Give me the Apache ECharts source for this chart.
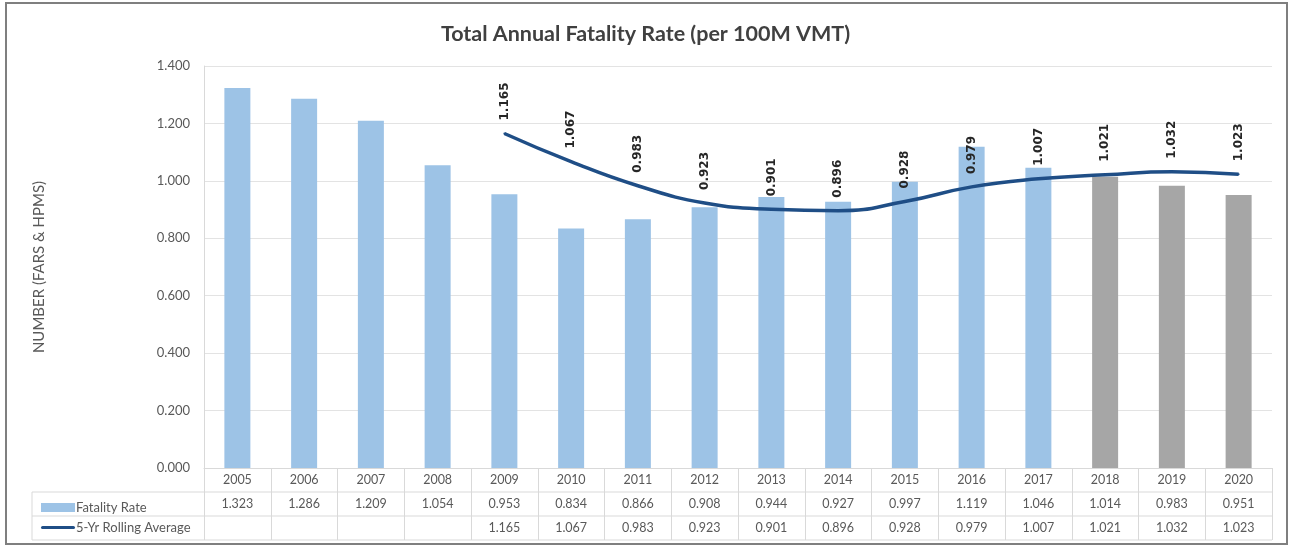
<!DOCTYPE html>
<html>
<head>
<meta charset="utf-8">
<title>Total Annual Fatality Rate</title>
<script src="https://cdn.jsdelivr.net/npm/echarts@6/dist/echarts.min.js"></script>
<style>
  html, body { margin: 0; padding: 0; background: #fff; }
  #chart { width: 1291px; height: 548px; }
</style>
</head>
<body>
<div id="chart"></div>
<script>
// 数据
const years = ["2005", "2006", "2007", "2008", "2009", "2010", "2011", "2012",
  "2013", "2014", "2015", "2016", "2017", "2018", "2019", "2020"];
const fatalityRate = [1.323, 1.286, 1.209, 1.054, 0.953, 0.834, 0.866, 0.908,
  0.944, 0.927, 0.997, 1.119, 1.046, 1.014, 0.983, 0.951];
const rollingAvg = [null, null, null, null, 1.165, 1.067, 0.983, 0.923,
  0.901, 0.896, 0.928, 0.979, 1.007, 1.021, 1.032, 1.023];
const grayYears = ["2018", "2019", "2020"]; // 灰色柱
const yTicks = { min: 0, max: 1.4, interval: 0.2 };

// 布局
const W = 1291, H = 548;
const G = { left: 204, right: 19, top: 66, bottom: 80 };
const rowH = 24; // 表格行高
const axisY = H - G.bottom;
const tableLeft = 32;
const gridRight = W - G.right;

const BLUE = "#9dc3e6";
const GRAY = "#a6a6a6";
const LINE = "#1f4e86";
const TEXT = "#595959";
const BORDER = "#d9d9d9";
const FONT = "Lato, 'Open Sans', sans-serif";

const chart = echarts.init(document.getElementById("chart"), null, { renderer: "canvas" });

const fmt = (v) => (v == null ? "" : v.toFixed(3));

const option = {
  animation: false,
  textStyle: { fontFamily: FONT },
  title: {
    text: "Total Annual Fatality Rate (per 100M VMT)",
    left: "center",
    top: 18,
    textStyle: { fontSize: 21.5, fontWeight: "bold", color: "#404040", fontFamily: FONT }
  },
  legend: {
    orient: "vertical",
    left: tableLeft + 4,
    top: axisY + rowH + 4,
    itemGap: 7,
    itemWidth: 34,
    itemHeight: 9,
    textStyle: { fontSize: 13, color: TEXT, padding: [0, 0, 0, -4] },
    data: [
      { name: "Fatality Rate", icon: "rect", itemStyle: { color: BLUE } },
      {
        name: "5-Yr Rolling Average",
        icon: "path://M2,3.5H32A1.5,1.5,0,0,1,32,6.5H2A1.5,1.5,0,0,1,2,3.5Z",
        itemStyle: { color: LINE, opacity: 1 }
      }
    ]
  },
  grid: { left: G.left, right: G.right, top: G.top, bottom: G.bottom, containLabel: false },
  xAxis: {
    type: "category",
    data: years,
    boundaryGap: true,
    axisLine: { lineStyle: { color: BORDER } },
    axisTick: { show: true, length: rowH * 3, lineStyle: { color: BORDER } },
    axisLabel: {
      margin: 0,
      interval: 0,
      color: TEXT,
      fontSize: 12.5,
      lineHeight: rowH,
      formatter: (v, i) => [v, fmt(fatalityRate[i]), fmt(rollingAvg[i])].join("\n")
    }
  },
  yAxis: {
    type: "value",
    min: yTicks.min,
    max: yTicks.max,
    interval: yTicks.interval,
    name: "NUMBER (FARS & HPMS)",
    nameLocation: "middle",
    nameRotate: 90,
    nameGap: 157,
    nameTextStyle: { fontSize: 15, color: TEXT },
    axisLine: { show: true, lineStyle: { color: BORDER } },
    axisTick: { show: false },
    axisLabel: { color: TEXT, fontSize: 13, margin: 14, formatter: (v) => v.toFixed(3) },
    splitLine: { lineStyle: { color: "#e3e3e3" } }
  },
  series: [
    {
      name: "Fatality Rate",
      type: "bar",
      barWidth: 26,
      itemStyle: { color: BLUE },
      data: fatalityRate.map((v, i) => ({
        value: v,
        itemStyle: { color: grayYears.includes(years[i]) ? GRAY : BLUE }
      }))
    },
    {
      name: "5-Yr Rolling Average",
      type: "line",
      smooth: true,
      symbol: "circle",
      symbolSize: 2,
      showSymbol: true,
      lineStyle: { color: LINE, width: 3.5 },
      itemStyle: { color: LINE },
      label: {
        show: true,
        position: "top",
        distance: 12,
        rotate: 90,
        align: "left",
        verticalAlign: "middle",
        fontSize: 12,
        fontWeight: "bold",
        color: "#262626",
        fontFamily: "'DejaVu Sans', sans-serif",
        formatter: (p) => fmt(p.value)
      },
      labelLayout: { hideOverlap: false },
      data: rollingAvg
    }
  ],
  graphic: [
    // 外框
    { type: "rect", shape: { x: 6, y: 3, width: 1281, height: 541 }, style: { fill: "none", stroke: "#7f7f7f", lineWidth: 2 }, silent: true },
    // 表格横线
    { type: "line", shape: { x1: tableLeft, y1: axisY + rowH, x2: gridRight, y2: axisY + rowH }, style: { stroke: BORDER, lineWidth: 1 }, silent: true },
    { type: "line", shape: { x1: tableLeft, y1: axisY + rowH * 2, x2: gridRight, y2: axisY + rowH * 2 }, style: { stroke: BORDER, lineWidth: 1 }, silent: true },
    { type: "line", shape: { x1: tableLeft, y1: axisY + rowH * 3, x2: gridRight, y2: axisY + rowH * 3 }, style: { stroke: BORDER, lineWidth: 1 }, silent: true },
    { type: "line", shape: { x1: tableLeft, y1: axisY + rowH, x2: tableLeft, y2: axisY + rowH * 3 }, style: { stroke: BORDER, lineWidth: 1 }, silent: true }
  ]
};

chart.setOption(option);
</script>
</body>
</html>
